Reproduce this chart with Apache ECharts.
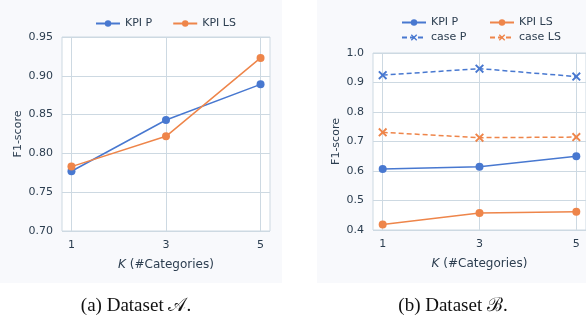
<!DOCTYPE html>
<html>
<head>
    <meta charset="utf-8">
    <title>F1-score vs K</title>
    <script src="https://cdn.jsdelivr.net/npm/echarts@6/dist/echarts.min.js"></script>
    <style>
        body { margin: 0; background: #fff; }
    </style>
</head>
<body>
    <div id="main" style="width: 586px;height:320px;"></div>
    <script type="text/javascript">
        // x positions (K)
        var kValues = [1, 3, 5]
        // dataset A
        var aKpiP = [0.777, 0.843, 0.889]
        var aKpiLS = [0.783, 0.822, 0.923]
        var aYTicks = [0.70, 0.75, 0.80, 0.85, 0.90, 0.95]
        // dataset B
        var bKpiP = [0.607, 0.614, 0.650]
        var bKpiLS = [0.419, 0.458, 0.462]
        var bCaseP = [0.925, 0.947, 0.920]
        var bCaseLS = [0.731, 0.713, 0.715]
        var bYTicks = [0.4, 0.5, 0.6, 0.7, 0.8, 0.9, 1.0]

        var blue = '#4878d0'
        var orange = '#ee854a'
        var txt = '#2c3e50'
        var gridCol = '#cdd9e2'
        var font = 'DejaVu Sans'
        var xSym = 'path://M0,1.5 L1.5,0 L5,3.5 L8.5,0 L10,1.5 L6.5,5 L10,8.5 L8.5,10 L5,6.5 L1.5,10 L0,8.5 L3.5,5 Z'

        function pairs(ys) {
            var out = []
            for (var i = 0; i < kValues.length; i++) out.push([kValues[i], ys[i]])
            return out
        }

        function xAxisOpt(idx) {
            return {
                type: 'value', gridIndex: idx, min: 0.8, max: 5.2,
                name: '{k|K} (#Categories)', nameLocation: 'middle', nameGap: 28,
                nameTextStyle: { color: txt, fontSize: 12, fontFamily: font,
                    rich: { k: { fontStyle: 'italic', color: txt, fontSize: 12, fontFamily: font } } },
                axisLine: { show: false },
                axisTick: { show: false, customValues: kValues },
                axisLabel: { customValues: kValues, color: txt, fontSize: 11, fontFamily: font, margin: 9 },
                splitLine: { show: true, lineStyle: { color: gridCol, width: 1 } }
            }
        }

        function yAxisOpt(idx, ticks, gap) {
            return {
                type: 'value', gridIndex: idx,
                min: ticks[0], max: ticks[ticks.length - 1],
                interval: Math.round((ticks[1] - ticks[0]) * 100) / 100,
                name: 'F1-score', nameLocation: 'middle', nameGap: gap,
                nameTextStyle: { color: txt, fontSize: 11, fontFamily: font },
                axisLine: { show: false }, axisTick: { show: false },
                axisLabel: { color: txt, fontSize: 11, fontFamily: font, margin: 9,
                    formatter: function (v) { return ticks[0] < 0.5 ? v.toFixed(1) : v.toFixed(2) } },
                splitLine: { show: true, lineStyle: { color: gridCol, width: 1 } }
            }
        }

        function lineSeries(name, data, color, xi, dashed) {
            return {
                name: name, type: 'line', xAxisIndex: xi, yAxisIndex: xi,
                data: pairs(data),
                symbol: dashed ? xSym : 'circle',
                symbolSize: dashed ? 9 : 8,
                color: color,
                lineStyle: { color: color, width: 1.5, type: dashed ? [5, 3] : 'solid' },
                itemStyle: { color: color, borderWidth: 0 },
                emphasis: { disabled: true }
            }
        }

        function legendOpt(extra) {
            return Object.assign({
                itemWidth: 24, itemHeight: 8, itemGap: 20,
                textStyle: { color: txt, fontSize: 11, fontFamily: font }
            }, extra)
        }

        var captionFont = '19px "Liberation Serif", "DejaVu Serif", serif'

        var myChart = echarts.init(document.getElementById('main'))
        var option = {
            animation: false,
            backgroundColor: '#ffffff',
            graphic: [
                { type: 'rect', z: -10, shape: { x: 0, y: 0, width: 282, height: 283 }, style: { fill: '#f8f9fc' } },
                { type: 'rect', z: -10, shape: { x: 317, y: 0, width: 269, height: 283 }, style: { fill: '#f8f9fc' } },
                { type: 'text', style: { text: '(a) Dataset 𝒜.', x: 136, y: 306, align: 'center', verticalAlign: 'middle',
                    font: captionFont, fill: '#111' } },
                { type: 'text', style: { text: '(b) Dataset ℬ.', x: 453, y: 306, align: 'center', verticalAlign: 'middle',
                    font: captionFont, fill: '#111' } }
            ],
            legend: [
                legendOpt({ data: ['KPI P', 'KPI LS'], left: 90, top: 13 }),
                legendOpt({ data: ['KPI P', 'case P'], orient: 'vertical', left: 396, top: 12, itemGap: 4 }),
                legendOpt({ data: ['KPI LS', 'case LS'], orient: 'vertical', left: 484, top: 12, itemGap: 4 })
            ],
            grid: [
                { left: 62, top: 37, width: 208, height: 194, show: true, borderColor: gridCol, borderWidth: 1, backgroundColor: '#ffffff' },
                { left: 373, top: 53, width: 216, height: 177, show: true, borderColor: gridCol, borderWidth: 1, backgroundColor: '#ffffff' }
            ],
            xAxis: [xAxisOpt(0), xAxisOpt(1)],
            yAxis: [yAxisOpt(0, aYTicks, 38), yAxisOpt(1, bYTicks, 31)],
            series: [
                lineSeries('KPI P', aKpiP, blue, 0, false),
                lineSeries('KPI LS', aKpiLS, orange, 0, false),
                lineSeries('KPI P', bKpiP, blue, 1, false),
                lineSeries('KPI LS', bKpiLS, orange, 1, false),
                lineSeries('case P', bCaseP, blue, 1, true),
                lineSeries('case LS', bCaseLS, orange, 1, true)
            ]
        }
        myChart.setOption(option)
    </script>
</body>
</html>
